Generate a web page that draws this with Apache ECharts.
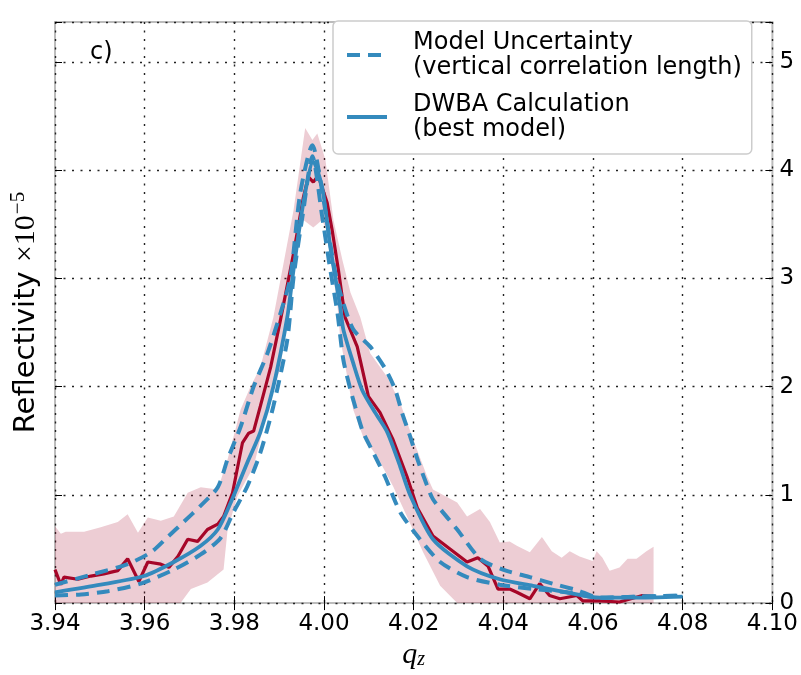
<!DOCTYPE html>
<html>
<head>
<meta charset="utf-8">
<script src="https://cdn.jsdelivr.net/npm/echarts@6/dist/echarts.min.js"></script>
<style>html,body{margin:0;padding:0;background:#fff;}#chart{width:801px;height:675px;}</style>
</head>
<body>
<div id="chart"></div>
<script>
// ---- data (q_z, reflectivity x1e-5) ----
const xTicks = [3.94, 3.96, 3.98, 4.00, 4.02, 4.04, 4.06, 4.08, 4.10];
const yTicks = [0, 1, 2, 3, 4, 5];

const measQ = [3.9400,3.9413,3.9420,3.9451,3.9480,3.9509,3.9540,3.9562,3.9587,3.9607,3.9636,3.9654,3.9674,3.9696,3.9718,3.9740,3.9763,3.9776,3.9796,3.9818,3.9832,3.9843,3.9858,3.9881,3.9903,3.9932,3.9954,3.9965,3.9976,3.9987,4.0007,4.0018,4.0032,4.0047,4.0074,4.0099,4.0125,4.0154,4.0185,4.0208,4.0243,4.0281,4.0319,4.0343,4.0366,4.0388,4.0414,4.0430,4.0459,4.0481,4.0503,4.0526,4.0564,4.0577,4.0615,4.0659,4.0710,4.0735];
const measR = [0.31,0.17,0.24,0.22,0.25,0.27,0.30,0.41,0.20,0.38,0.36,0.33,0.43,0.59,0.57,0.68,0.73,0.80,1.02,1.48,1.57,1.59,1.82,2.18,2.62,3.23,3.75,3.94,3.89,3.95,3.70,3.45,3.08,2.64,2.37,1.91,1.76,1.51,1.17,0.88,0.62,0.50,0.38,0.42,0.34,0.13,0.13,0.10,0.04,0.18,0.07,0.04,0.07,0.02,0.02,0.01,0.07,0.06];

const bandUpperQ = [3.9400,3.9413,3.9424,3.9465,3.9502,3.9540,3.9562,3.9585,3.9607,3.9636,3.9665,3.9696,3.9725,3.9763,3.9785,3.9814,3.9836,3.9858,3.9887,3.9932,3.9958,3.9974,3.9985,4.0003,4.0021,4.0041,4.0059,4.0081,4.0103,4.0141,4.0170,4.0199,4.0230,4.0243,4.0297,4.0319,4.0348,4.0370,4.0392,4.0414,4.0430,4.0459,4.0486,4.0508,4.0530,4.0548,4.0570,4.0599,4.0608,4.0621,4.0637,4.0659,4.0677,4.0697,4.0719,4.0735];
const bandUpperR = [0.71,0.64,0.66,0.66,0.70,0.75,0.82,0.65,0.79,0.76,0.80,1.02,1.07,1.05,1.33,1.79,2.00,2.18,2.64,3.63,4.39,4.28,4.34,4.10,3.54,3.17,2.87,2.64,2.31,2.09,1.85,1.51,1.17,1.05,0.93,0.80,0.87,0.75,0.56,0.57,0.53,0.47,0.61,0.48,0.42,0.48,0.43,0.39,0.48,0.42,0.30,0.33,0.41,0.41,0.48,0.52];
const bandLowerQ = [3.9400,3.9680,3.9703,3.9740,3.9776,3.9785,3.9807,3.9843,3.9874,3.9903,3.9921,3.9941,3.9954,3.9976,3.9996,4.0007,4.0021,4.0030,4.0036,4.0065,4.0087,4.0119,4.0154,4.0185,4.0221,4.0259,4.0297,4.0735];
const bandLowerR = [0,0,0.13,0.19,0.31,0.68,0.99,1.26,1.79,2.18,2.80,3.33,3.54,3.47,3.54,3.42,3.01,2.75,2.45,1.79,1.54,1.35,1.08,0.80,0.47,0.16,0,0];

const bestQ = [3.9400,3.9502,3.9598,3.9665,3.9725,3.9763,3.9792,3.9829,3.9858,3.9887,3.9918,3.9932,3.9954,3.9976,3.9996,4.0014,4.0036,4.0043,4.0065,4.0085,4.0114,4.0141,4.0170,4.0192,4.0243,4.0319,4.0392,4.0466,4.0541,4.0615,4.0688,4.0800];
const bestR = [0.10,0.17,0.25,0.38,0.53,0.68,0.93,1.30,1.58,2.00,2.64,3.08,3.70,4.08,3.84,3.29,2.74,2.53,2.22,1.97,1.76,1.58,1.26,1.00,0.59,0.34,0.22,0.16,0.10,0.05,0.05,0.06];

const uncUpperQ = [3.9400,3.9487,3.9562,3.9614,3.9651,3.9687,3.9725,3.9763,3.9785,3.9814,3.9843,3.9874,3.9903,3.9925,3.9947,3.9974,3.9998,4.0021,4.0036,4.0065,4.0103,4.0136,4.0159,4.0174,4.0192,4.0210,4.0225,4.0243,4.0297,4.0348,4.0399,4.0459,4.0510,4.0564,4.0615,4.0704,4.0800];
const uncUpperR = [0.17,0.27,0.36,0.47,0.61,0.75,0.90,1.07,1.33,1.63,2.00,2.31,2.68,3.01,3.79,4.23,3.75,3.14,2.87,2.53,2.37,2.17,1.97,1.76,1.54,1.31,1.14,0.96,0.68,0.41,0.31,0.24,0.18,0.12,0.05,0.06,0.07];
const uncLowerQ = [3.9400,3.9458,3.9518,3.9591,3.9665,3.9725,3.9769,3.9798,3.9829,3.9858,3.9887,3.9918,3.9932,3.9954,3.9974,3.9996,4.0014,4.0030,4.0043,4.0059,4.0070,4.0087,4.0110,4.0136,4.0170,4.0214,4.0259,4.0319,4.0392,4.0466,4.0541,4.0615,4.0704,4.0800];
const uncLowerR = [0.07,0.08,0.11,0.18,0.31,0.45,0.60,0.84,1.08,1.39,1.82,2.43,3.01,3.63,4.13,3.57,3.08,2.68,2.25,1.97,1.81,1.58,1.39,1.17,0.84,0.59,0.38,0.24,0.17,0.13,0.10,0.05,0.06,0.07];

const nameUnc = 'Model Uncertainty\n(vertical correlation length)';
const nameBest = 'DWBA Calculation\n(best model)';
const panelLabel = 'c)';

// ---- build ----
const zip = (a, b) => a.map((v, i) => [v, b[i]]);
const RED = '#A60628', BLUE = '#348ABD', BAND = 'rgba(166,6,40,0.2)';
const grid = { left: 54, right: 28, top: 22, bottom: 71 };
const yMax = 5.37;
const dotted = { color: '#222', width: 1.4, type: [2, 6.5] };
const isTick = (v, arr) => arr.some(t => Math.abs(t - v) < 1e-6);

const chart = echarts.init(document.getElementById('chart'), null, { renderer: 'canvas' });
chart.setOption({
  animation: false,
  backgroundColor: '#fff',
  grid: Object.assign({ show: true, borderColor: '#bcbcbc', borderWidth: 2, backgroundColor: 'transparent' }, grid),
  xAxis: [{
    type: 'value', min: xTicks[0], max: xTicks[xTicks.length - 1], interval: 0.02,
    position: 'bottom',
    axisLine: { show: false },
    axisTick: { show: true, inside: true, length: 7, lineStyle: { color: '#000', width: 1 } },
    axisLabel: { show: true, margin: 9, fontSize: 23, fontFamily: 'DejaVu Sans', color: '#000',
      formatter: v => isTick(v, xTicks) ? v.toFixed(2) : '' },
    splitLine: { show: true, lineStyle: dotted },
    name: '{q|q}{z|z}', nameLocation: 'middle', nameGap: 36,
    nameTextStyle: { rich: {
      q: { fontFamily: 'Liberation Serif', fontStyle: 'italic', fontSize: 30, color: '#000' },
      z: { fontFamily: 'Liberation Serif', fontStyle: 'italic', fontSize: 20, color: '#000', padding: [10, 0, 0, 0] }
    } }
  }, {
    type: 'value', min: xTicks[0], max: xTicks[xTicks.length - 1], interval: 0.02,
    position: 'top',
    axisLine: { show: false },
    axisTick: { show: true, inside: true, length: 7, lineStyle: { color: '#000', width: 1 } },
    axisLabel: { show: false }, splitLine: { show: false }
  }],
  yAxis: [{
    type: 'value', min: 0, max: yMax, interval: 1, position: 'right',
    axisLine: { show: false },
    axisTick: { show: true, inside: true, length: 7, lineStyle: { color: '#000', width: 1 } },
    axisLabel: { show: true, margin: 7, fontSize: 23, fontFamily: 'DejaVu Sans', color: '#000',
      formatter: v => isTick(v, yTicks) ? String(Math.round(v)) : '' },
    splitLine: { show: true, lineStyle: dotted }
  }, {
    type: 'value', min: 0, max: yMax, interval: 1, position: 'left',
    axisLine: { show: false },
    axisTick: { show: true, inside: true, length: 7, lineStyle: { color: '#000', width: 1 } },
    axisLabel: { show: false }, splitLine: { show: false },
    name: '{a|Reflectivity }{b|×10}{c|−5}', nameLocation: 'middle', nameGap: 10,
    nameTextStyle: { rich: {
      a: { fontFamily: 'DejaVu Sans', fontSize: 29, color: '#000' },
      b: { fontFamily: 'Liberation Serif', fontSize: 30, color: '#000' },
      c: { fontFamily: 'Liberation Serif', fontSize: 21, color: '#000', padding: [0, 0, 16, 1] }
    } }
  }],
  legend: {
    data: [nameUnc, nameBest],
    orient: 'vertical', left: 333, top: 21,
    padding: [9, 10, 12, 12], itemGap: 12, itemWidth: 40, itemHeight: 14,
    backgroundColor: '#fff', borderColor: '#cccccc', borderWidth: 1.5, borderRadius: 5,
    itemStyle: { opacity: 0 },
    lineStyle: { width: 4 },
    textStyle: { fontSize: 24, fontFamily: 'DejaVu Sans', color: '#000', lineHeight: 25, padding: [0, 0, 0, 21] }
  },
  graphic: [{
    type: 'text', left: 90, top: 41, z: 10,
    style: { text: panelLabel, font: '24px "DejaVu Sans"', fill: '#000' }
  }],
  series: [{
    type: 'custom', name: 'band', silent: true, z: 1,
    data: [[bandUpperQ[0], bandUpperR[0]]],
    renderItem: function (params, api) {
      if (params.dataIndex !== 0) return;
      const pts = [];
      for (let i = 0; i < bandUpperQ.length; i++) pts.push(api.coord([bandUpperQ[i], bandUpperR[i]]));
      for (let i = bandLowerQ.length - 1; i >= 0; i--) pts.push(api.coord([bandLowerQ[i], bandLowerR[i]]));
      return { type: 'polygon', shape: { points: pts }, style: { fill: BAND } };
    }
  }, {
    type: 'line', name: 'Data', data: zip(measQ, measR), symbol: 'none', z: 3,
    lineStyle: { color: RED, width: 3.2 }, itemStyle: { color: RED }
  }, {
    type: 'line', name: nameBest, data: zip(bestQ, bestR), symbol: 'none', smooth: 0.25, z: 4,
    lineStyle: { color: BLUE, width: 3.8 }, itemStyle: { color: BLUE }
  }, {
    type: 'line', name: nameUnc, data: zip(uncUpperQ, uncUpperR), symbol: 'none', smooth: 0.25, z: 5,
    lineStyle: { color: BLUE, width: 4, type: [13, 8] }, itemStyle: { color: BLUE }
  }, {
    type: 'line', name: nameUnc, data: zip(uncLowerQ, uncLowerR), symbol: 'none', smooth: 0.25, z: 5,
    lineStyle: { color: BLUE, width: 4, type: [13, 8] }, itemStyle: { color: BLUE }
  }]
});
</script>
</body>
</html>
